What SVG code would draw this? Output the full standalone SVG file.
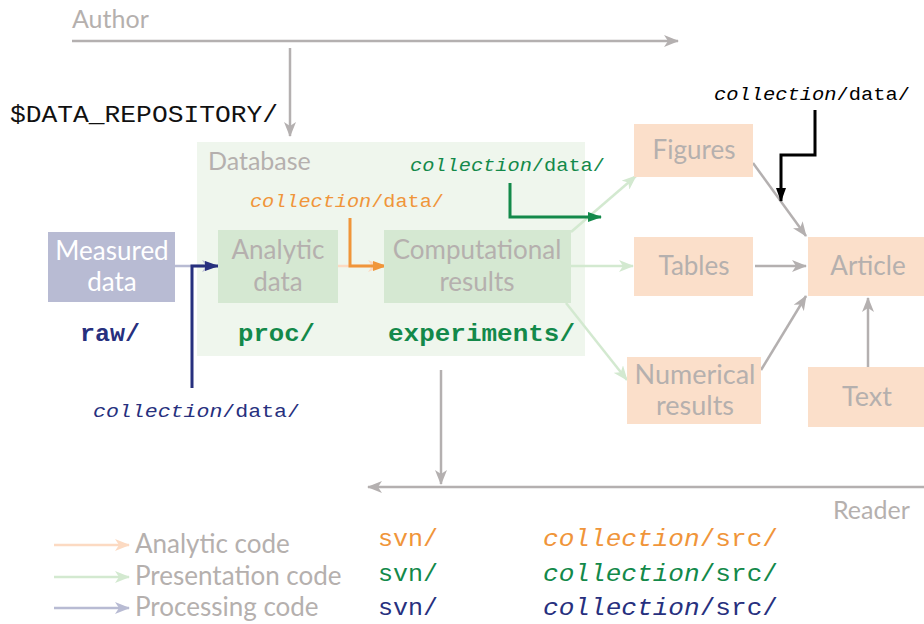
<svg xmlns="http://www.w3.org/2000/svg" width="924" height="624" viewBox="0 0 924 624">
<defs>
<style>
.sans{font-family:Lato,"Open Sans","Liberation Sans",sans-serif}
.mono{font-family:"Liberation Mono","Courier New",monospace}
.gt{fill:#b5b0ae}
.lbl{font-size:26px;text-anchor:middle}
.peach{fill:#fbdfca}
.ln{fill:none}
.gray{stroke:#b4b0b0;stroke-width:2.5}
.lg{stroke:#d3e9d0;stroke-width:2.5}
.it{font-style:italic}
</style>
<marker id="aGray" markerUnits="userSpaceOnUse" markerWidth="16" markerHeight="12" refX="14" refY="6" orient="auto"><path d="M0,0 L15,6 L0,12 L4,6 z" fill="#b4b0b0"/></marker>
<marker id="aLG" markerUnits="userSpaceOnUse" markerWidth="16" markerHeight="12" refX="14" refY="6" orient="auto"><path d="M0,0 L15,6 L0,12 L4,6 z" fill="#d3e9d0"/></marker>
<marker id="aPeach" markerUnits="userSpaceOnUse" markerWidth="16" markerHeight="12" refX="14" refY="6" orient="auto"><path d="M0,0 L15,6 L0,12 L4,6 z" fill="#fcdac2"/></marker>
<marker id="aLav" markerUnits="userSpaceOnUse" markerWidth="16" markerHeight="12" refX="14" refY="6" orient="auto"><path d="M0,0 L15,6 L0,12 L4,6 z" fill="#b8bbd3"/></marker>
<marker id="aOr" markerUnits="userSpaceOnUse" markerWidth="14" markerHeight="10" refX="13" refY="5" orient="auto"><path d="M0,0 L14,5 L0,10 z" fill="#f0953a"/></marker>
<marker id="aGr" markerUnits="userSpaceOnUse" markerWidth="14" markerHeight="10" refX="13" refY="5" orient="auto"><path d="M0,0 L14,5 L0,10 z" fill="#13894a"/></marker>
<marker id="aNv" markerUnits="userSpaceOnUse" markerWidth="14" markerHeight="10" refX="13" refY="5" orient="auto"><path d="M0,0 L14,5 L0,10 z" fill="#27307e"/></marker>
<marker id="aBk" markerUnits="userSpaceOnUse" markerWidth="14" markerHeight="10" refX="13" refY="5" orient="auto"><path d="M0,0 L14,5 L0,10 z" fill="#000"/></marker>
</defs>
<rect width="924" height="624" fill="#fff"/>

<g id="database">
<rect x="197" y="142" width="388" height="214" fill="#eff6ed"/>
<text x="208" y="170" class="sans gt" font-size="25">Database</text>
</g>

<g id="author">
<text x="72" y="28" class="sans gt" font-size="25">Author</text>
</g>
<g id="reader">
<text x="833" y="519" class="sans gt" font-size="25">Reader</text>
</g>
<g id="repo">
<text x="10" y="122" class="mono" font-size="23" textLength="268" lengthAdjust="spacingAndGlyphs" fill="#111">$DATA_REPOSITORY/</text>
</g>

<g id="connectors">
<line x1="72" y1="41" x2="678" y2="41" class="ln gray" marker-end="url(#aGray)"/>
<line x1="290" y1="48" x2="290" y2="136" class="ln gray" marker-end="url(#aGray)"/>
<line x1="441" y1="370" x2="441" y2="484" class="ln gray" marker-end="url(#aGray)"/>
<line x1="924" y1="487" x2="368" y2="487" class="ln gray" marker-end="url(#aGray)"/>
<line x1="175" y1="266" x2="216" y2="266" stroke="#b8bbd3" stroke-width="2.5" marker-end="url(#aLav)"/>
<line x1="338" y1="266" x2="382" y2="266" stroke="#fcdac2" stroke-width="2.5" marker-end="url(#aPeach)"/>
<line x1="571" y1="232" x2="636" y2="176" class="ln lg" marker-end="url(#aLG)"/>
<line x1="571" y1="266" x2="633" y2="266" class="ln lg" marker-end="url(#aLG)"/>
<line x1="566" y1="303" x2="627" y2="380" class="ln lg" marker-end="url(#aLG)"/>
<line x1="753" y1="163" x2="806" y2="236" class="ln gray" marker-end="url(#aGray)"/>
<line x1="755" y1="266" x2="806" y2="266" class="ln gray" marker-end="url(#aGray)"/>
<line x1="761" y1="370" x2="806" y2="296" class="ln gray" marker-end="url(#aGray)"/>
<line x1="868" y1="367" x2="868" y2="298" class="ln gray" marker-end="url(#aGray)"/>
<polyline points="350,218 350,266 386,266" fill="none" stroke="#f0953a" stroke-width="3" marker-end="url(#aOr)"/>
<polyline points="510,183 510,217 601,217" fill="none" stroke="#13894a" stroke-width="3" marker-end="url(#aGr)"/>
<polyline points="192,388 192,266 218,266" fill="none" stroke="#27307e" stroke-width="3" marker-end="url(#aNv)"/>
<polyline points="815,110 815,155 781,155 781,201" fill="none" stroke="#000" stroke-width="3" marker-end="url(#aBk)"/>
</g>

<g id="measured">
<rect x="48" y="232" width="127" height="70" fill="#b8bbd3"/>
<text x="112" y="260" class="sans lbl" fill="#fff">Measured</text>
<text x="112" y="291" class="sans lbl" fill="#fff">data</text>
<text x="80" y="341" class="mono" font-size="24" font-weight="bold" textLength="60" lengthAdjust="spacingAndGlyphs" fill="#27307e">raw/</text>
</g>
<g id="analytic">
<rect x="218" y="230" width="120" height="73" fill="#d5e8d2"/>
<text x="278" y="259" class="sans lbl gt">Analytic</text>
<text x="278" y="291" class="sans lbl gt">data</text>
<text x="238" y="341" class="mono" font-size="24" font-weight="bold" textLength="77" lengthAdjust="spacingAndGlyphs" fill="#13894a">proc/</text>
</g>
<g id="computational">
<rect x="384" y="230" width="187" height="73" fill="#d5e8d2"/>
<text x="477" y="259" class="sans lbl gt">Computational</text>
<text x="477" y="291" class="sans lbl gt">results</text>
<text x="388" y="341" class="mono" font-size="24" font-weight="bold" textLength="187" lengthAdjust="spacingAndGlyphs" fill="#13894a">experiments/</text>
</g>
<g id="label-orange">
<text x="250" y="207" class="mono" font-size="19" textLength="194" lengthAdjust="spacingAndGlyphs" fill="#f0953a"><tspan class="it">collection</tspan>/data/</text>
</g>
<g id="label-green">
<text x="410" y="171" class="mono" font-size="19" textLength="195" lengthAdjust="spacingAndGlyphs" fill="#13894a"><tspan class="it">collection</tspan>/data/</text>
</g>
<g id="label-navy">
<text x="93" y="417" class="mono" font-size="19" textLength="207" lengthAdjust="spacingAndGlyphs" fill="#27307e"><tspan class="it">collection</tspan>/data/</text>
</g>
<g id="label-black">
<text x="714" y="100" class="mono" font-size="19" textLength="196" lengthAdjust="spacingAndGlyphs" fill="#000"><tspan class="it">collection</tspan>/data/</text>
</g>

<g id="figures">
<rect x="634" y="124" width="119" height="53" class="peach"/>
<text x="694" y="159" class="sans gt" font-size="26" text-anchor="middle">Figures</text>
</g>
<g id="tables">
<rect x="634" y="237" width="119" height="59" class="peach"/>
<text x="694" y="275" class="sans gt" font-size="26" text-anchor="middle">Tables</text>
</g>
<g id="numerical">
<rect x="627" y="357" width="134" height="67" class="peach"/>
<text x="695" y="384" class="sans gt" font-size="27" text-anchor="middle">Numerical</text>
<text x="695" y="415" class="sans gt" font-size="27" text-anchor="middle">results</text>
</g>
<g id="article">
<rect x="808" y="237" width="116" height="59" class="peach"/>
<text x="868" y="275" class="sans gt" font-size="26" text-anchor="middle">Article</text>
</g>
<g id="text">
<rect x="808" y="367" width="116" height="60" class="peach"/>
<text x="867" y="406" class="sans gt" font-size="27" text-anchor="middle">Text</text>
</g>

<g id="legend">
<line x1="54" y1="545" x2="129" y2="545" stroke="#fcdac2" stroke-width="2.5" marker-end="url(#aPeach)"/>
<line x1="54" y1="577" x2="129" y2="577" stroke="#d3e9d0" stroke-width="2.5" marker-end="url(#aLG)"/>
<line x1="54" y1="608" x2="129" y2="608" stroke="#b8bbd3" stroke-width="2.5" marker-end="url(#aLav)"/>
<text x="135" y="553" class="sans gt" font-size="26">Analytic code</text>
<text x="135" y="585" class="sans gt" font-size="26">Presentation code</text>
<text x="135" y="616" class="sans gt" font-size="26">Processing code</text>
<text x="378" y="546" class="mono" font-size="23" textLength="60" lengthAdjust="spacingAndGlyphs" fill="#f0953a">svn/</text>
<text x="378" y="581" class="mono" font-size="23" textLength="60" lengthAdjust="spacingAndGlyphs" fill="#13894a">svn/</text>
<text x="378" y="615" class="mono" font-size="23" textLength="60" lengthAdjust="spacingAndGlyphs" fill="#27307e">svn/</text>
<text x="543" y="546" class="mono" font-size="23" textLength="235" lengthAdjust="spacingAndGlyphs" fill="#f0953a"><tspan class="it">collection</tspan>/src/</text>
<text x="543" y="581" class="mono" font-size="23" textLength="235" lengthAdjust="spacingAndGlyphs" fill="#13894a"><tspan class="it">collection</tspan>/src/</text>
<text x="543" y="615" class="mono" font-size="23" textLength="235" lengthAdjust="spacingAndGlyphs" fill="#27307e"><tspan class="it">collection</tspan>/src/</text>
</g>
</svg>
